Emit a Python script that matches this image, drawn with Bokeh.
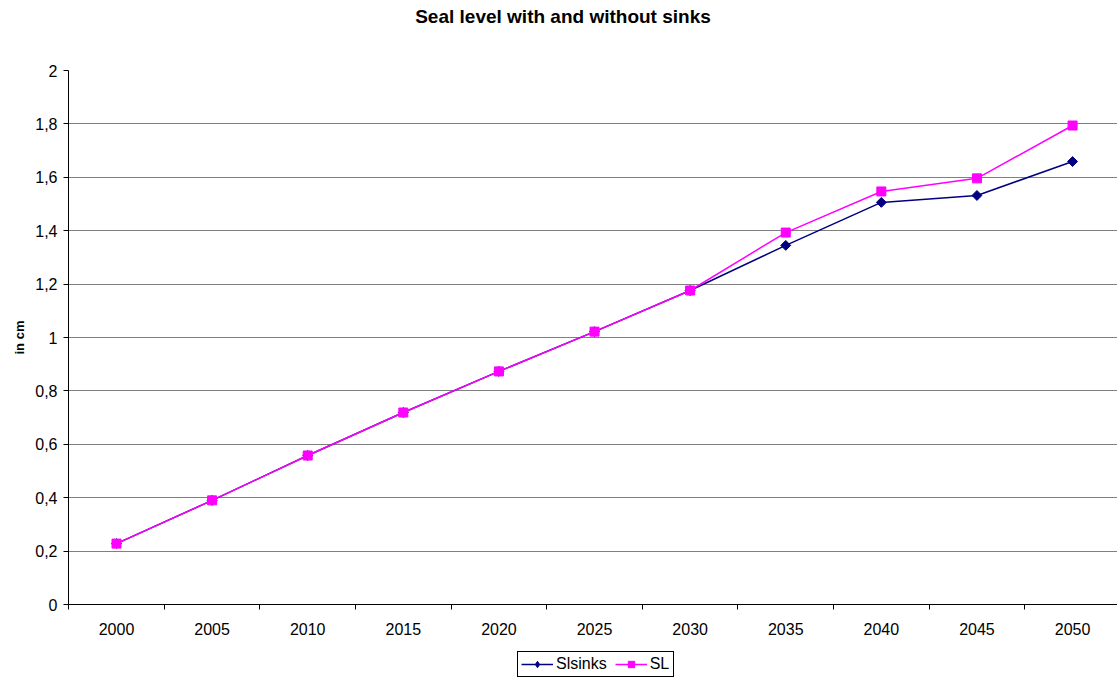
import math
from bokeh.plotting import figure
from bokeh.layouts import column
from bokeh.models import FixedTicker, CustomJSTickFormatter, Legend, LegendItem, Range1d, Label
from bokeh.embed import file_html
from bokeh.resources import INLINE

years = [2000, 2005, 2010, 2015, 2020, 2025, 2030, 2035, 2040, 2045, 2050]
slsinks = [0.228, 0.39, 0.558, 0.719, 0.873, 1.022, 1.176, 1.345, 1.506, 1.532, 1.659]
sl = [0.228, 0.39, 0.558, 0.719, 0.873, 1.022, 1.176, 1.393, 1.547, 1.596, 1.794]
y_ticks = [0, 0.2, 0.4, 0.6, 0.8, 1.0, 1.2, 1.4, 1.6, 1.8, 2.0]
series_names = ["Slsinks", "SL"]
title_text = "Seal level with and without sinks"

FONT = "Liberation Sans"
navy = "#000080"
mag = "#FF00FF"
W = 1117
LEFT = 68


def strip(h):
    f = figure(width=W, height=h, output_backend="svg", toolbar_location=None,
               x_range=Range1d(0, 1), y_range=Range1d(0, 1),
               x_axis_type=None, y_axis_type=None)
    f.min_border_left = LEFT
    f.min_border_right = 0
    f.min_border_top = 0
    f.min_border_bottom = 0
    f.outline_line_color = None
    f.grid.visible = False
    f.border_fill_color = "white"
    f.background_fill_color = "white"
    return f


# title strip
t = strip(34)
t.add_layout(Label(x=494.5, y=18, x_units="screen", y_units="screen", text=title_text,
                   text_align="center", text_baseline="middle", text_font=FONT,
                   text_font_size="19px", text_font_style="bold", text_color="black"))

# main chart
p = figure(width=W, height=608, output_backend="svg", toolbar_location=None,
           x_range=Range1d(1997.49, 2052.35), y_range=Range1d(0, 2))
p.min_border_left = LEFT
p.min_border_right = 0
p.min_border_top = 36
p.min_border_bottom = 38
p.outline_line_color = None
p.background_fill_color = "white"
p.border_fill_color = "white"

minor = [y - 2.5 for y in years] + [years[-1] + 2.5]
p.xaxis.ticker = FixedTicker(ticks=years, minor_ticks=minor)
p.xaxis.major_tick_out = 0
p.xaxis.major_tick_in = 0
p.xaxis.minor_tick_out = 5
p.xaxis.minor_tick_in = 0
p.xaxis.minor_tick_line_color = "black"
p.xaxis.axis_line_color = "black"
p.xaxis.major_label_text_font = FONT
p.xaxis.major_label_text_font_size = "16px"
p.xaxis.major_label_text_color = "black"
p.xaxis.major_label_standoff = 13

p.yaxis.ticker = FixedTicker(ticks=y_ticks)
p.yaxis.formatter = CustomJSTickFormatter(code="const s = (Math.round(tick*10)/10).toString(); return s.replace('.', ',');")
p.yaxis.major_tick_out = 5
p.yaxis.major_tick_in = 0
p.yaxis.minor_tick_out = 0
p.yaxis.minor_tick_in = 0
p.yaxis.axis_line_color = "black"
p.yaxis.major_label_text_font = FONT
p.yaxis.major_label_text_font_size = "16px"
p.yaxis.major_label_text_color = "black"
p.yaxis.major_label_standoff = 6
p.yaxis.axis_label = "in cm"
p.yaxis.axis_label_text_font = FONT
p.yaxis.axis_label_text_font_size = "13px"
p.yaxis.axis_label_text_font_style = "bold"
p.yaxis.axis_label_text_color = "black"
p.yaxis.axis_label_standoff = 5

p.xgrid.grid_line_color = None
p.ygrid.grid_line_color = "#808080"
p.ygrid.grid_line_width = 1

DIAMOND = dict(marker="square", angle=math.pi / 4, size=7, fill_color=navy, line_color=navy)
SQUARE = dict(marker="square", size=9, fill_color=mag, line_color=mag)

p.line(years, slsinks, line_color=navy, line_width=1.5)
p.scatter(years, slsinks, **DIAMOND)
p.line(years, sl, line_color=mag, line_width=1.5)
p.scatter(years, sl, **SQUARE)

# legend strip
q = strip(38)
off = [5, 6]
ql1 = q.line(off, off, line_color=navy, line_width=1.5)
qm1 = q.scatter(off, off, marker="diamond", size=11, fill_color=navy, line_color=navy)
ql2 = q.line(off, off, line_color=mag, line_width=1.5)
qm2 = q.scatter(off, off, **SQUARE)

legend = Legend(items=[LegendItem(label=series_names[0], renderers=[ql1, qm1]),
                       LegendItem(label=series_names[1], renderers=[ql2, qm2])],
                orientation="horizontal", location=(517 - LEFT, 3))
legend.border_line_color = "black"
legend.border_line_width = 1
legend.border_line_alpha = 1
legend.label_text_font = FONT
legend.label_text_font_size = "16px"
legend.label_text_color = "black"
legend.label_standoff = 3
legend.glyph_width = 32
legend.glyph_height = 16
legend.spacing = 8
legend.padding = 3
legend.margin = 0
legend.background_fill_alpha = 1
q.add_layout(legend, "center")

layout = column(t, p, q, spacing=0)
open("out.html", "w").write(file_html(layout, INLINE))
